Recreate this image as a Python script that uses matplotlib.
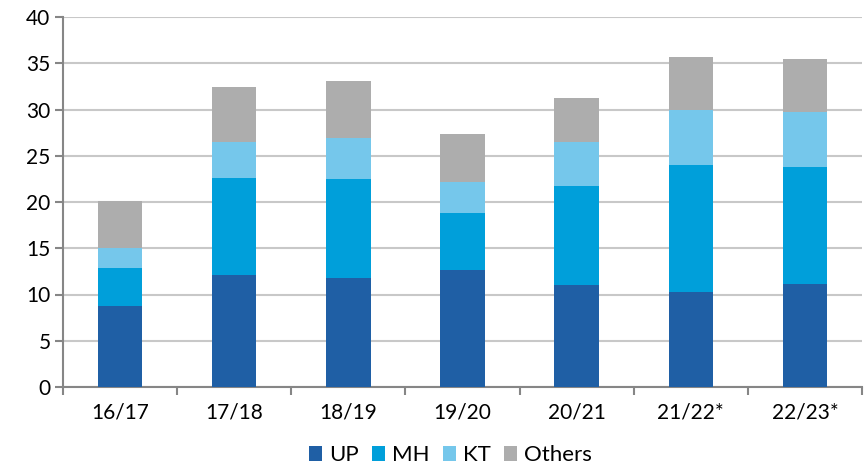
import matplotlib.pyplot as plt
import numpy as np

plt.rcParams['font.family'] = ['Lato', 'DejaVu Sans']

# Seasons and stacked values per region
seasons = ["16/17", "17/18", "18/19", "19/20", "20/21", "21/22*", "22/23*"]
up = [8.8, 12.1, 11.8, 12.6, 11.0, 10.3, 11.1]
mh = [4.1, 10.5, 10.7, 6.2, 10.7, 13.7, 12.65]
kt = [2.1, 3.9, 4.4, 3.4, 4.8, 6.0, 6.0]
others = [5.1, 5.9, 6.15, 5.1, 4.7, 5.7, 5.7]

series = [("UP", up, "#1f5fa5"), ("MH", mh, "#009fda"),
          ("KT", kt, "#75c7eb"), ("Others", others, "#adadad")]

fig = plt.figure(figsize=(8.65, 4.67), dpi=100)
ax = fig.add_axes([63 / 865, 1 - 387 / 467, 799 / 865, 370 / 467])

x = np.arange(len(seasons))
bottom = np.zeros(len(seasons))
for name, vals, col in series:
    ax.bar(x, vals, width=0.39, bottom=bottom, color=col, label=name, zorder=3)
    bottom += np.array(vals)

ax.set_xlim(-0.5, len(seasons) - 0.5)
ax.set_ylim(0, 40)
ax.set_yticks(range(0, 41, 5))
ax.grid(axis='y', color='#c8c8c8', linewidth=1.5, zorder=0)

# category labels centred between boundary ticks
ax.set_xticks(x)
ax.set_xticklabels(seasons)
ax.set_xticks(np.arange(-0.5, len(seasons)), minor=True)
ax.tick_params(axis='x', which='major', length=0, pad=11, labelsize=15)
ax.tick_params(axis='x', which='minor', length=6, width=1.5, color='#868686')
ax.tick_params(axis='y', length=6, width=1.5, color='#868686', labelsize=15, pad=3)

for side in ['top', 'right']:
    ax.spines[side].set_visible(False)
for side in ['left', 'bottom']:
    ax.spines[side].set_color('#868686')
    ax.spines[side].set_linewidth(1.5)

ax.legend(loc='center', bbox_to_anchor=(0.485, -0.185), ncol=4, frameon=False,
          fontsize=16, handlelength=0.6, handleheight=0.65, handletextpad=0.3,
          columnspacing=0.6)

plt.savefig('out.png', dpi=100)
